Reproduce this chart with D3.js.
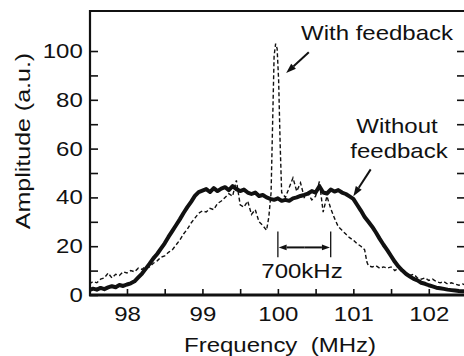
<!DOCTYPE html>
<html>
<head>
<meta charset="utf-8">
<script src="https://cdn.jsdelivr.net/npm/d3@7"></script>
<style>
  html, body { margin: 0; padding: 0; background: #fff; }
  svg { display: block; }
  text { font-family: "Liberation Sans", Arial, sans-serif; fill: #111; }
</style>
</head>
<body>
<svg id="chart" width="464" height="356"></svg>
<script>
// ---- data ----
const xDomain = [97.51, 102.48];
const yDomain = [0, 116.4];
const xTicks = [98, 98.5, 99, 99.5, 100, 100.5, 101, 101.5, 102];
const xLabels = [98, 99, 100, 101, 102];
const yTicks = [0, 10, 20, 30, 40, 50, 60, 70, 80, 90, 100];
const yLabels = [0, 20, 40, 60, 80, 100];

// [frequency MHz, amplitude a.u.]
const withoutFeedback = [
  [97.50, 2.0], [97.55, 2.6], [97.60, 2.2], [97.65, 2.9], [97.70, 2.4],
  [97.75, 3.1], [97.80, 3.6], [97.85, 3.2], [97.90, 4.1], [97.95, 3.7],
  [98.00, 4.3], [98.05, 4.8], [98.10, 5.6], [98.15, 7.2], [98.20, 8.8],
  [98.25, 10.8], [98.30, 12.8], [98.35, 15.0], [98.40, 16.8], [98.45, 19.0],
  [98.50, 21.2], [98.55, 23.8], [98.60, 26.2], [98.65, 28.6], [98.70, 31.0],
  [98.75, 33.6], [98.80, 36.0], [98.85, 38.2], [98.90, 40.6], [98.95, 42.2],
  [99.00, 42.8], [99.05, 43.4], [99.10, 42.2], [99.15, 43.8], [99.20, 42.6],
  [99.25, 43.6], [99.30, 44.2], [99.35, 43.0], [99.40, 44.6], [99.45, 43.4],
  [99.50, 42.6], [99.55, 43.2], [99.60, 42.0], [99.65, 41.4], [99.70, 42.0],
  [99.75, 40.6], [99.80, 41.0], [99.85, 40.0], [99.90, 39.4], [99.95, 39.0],
  [100.00, 39.6], [100.05, 38.6], [100.10, 39.0], [100.15, 38.6], [100.20, 39.6],
  [100.25, 40.0], [100.30, 40.6], [100.35, 41.0], [100.40, 41.6], [100.45, 42.6],
  [100.50, 42.0], [100.55, 44.6], [100.60, 42.0], [100.65, 41.6], [100.70, 43.2],
  [100.75, 42.4], [100.80, 43.0], [100.85, 42.0], [100.90, 41.4], [100.95, 40.4],
  [101.00, 39.4], [101.05, 37.0], [101.10, 34.6], [101.15, 32.0], [101.20, 30.0],
  [101.25, 28.0], [101.30, 25.6], [101.35, 23.0], [101.40, 20.6], [101.45, 18.4],
  [101.50, 16.0], [101.55, 13.6], [101.60, 11.6], [101.65, 10.0], [101.70, 8.6],
  [101.75, 7.6], [101.80, 6.6], [101.85, 6.0], [101.90, 5.0], [101.95, 4.6],
  [102.00, 4.0], [102.05, 3.5], [102.10, 3.0], [102.15, 2.8], [102.20, 2.5],
  [102.25, 2.2], [102.30, 2.0], [102.35, 1.8], [102.40, 1.6], [102.45, 1.5],
  [102.50, 1.5]
];

const withFeedback = [
  [97.50, 4.5], [97.55, 5.5], [97.60, 5.0], [97.65, 6.5], [97.70, 7.0],
  [97.75, 9.0], [97.80, 7.0], [97.85, 8.5], [97.90, 8.0], [97.95, 9.5],
  [98.00, 9.0], [98.05, 10.0], [98.10, 9.5], [98.15, 11.0], [98.20, 10.5],
  [98.25, 12.0], [98.30, 11.5], [98.35, 13.0], [98.40, 14.0], [98.45, 15.5],
  [98.50, 16.0], [98.55, 17.5], [98.60, 18.5], [98.65, 20.5], [98.70, 22.5],
  [98.75, 25.0], [98.80, 27.0], [98.85, 29.5], [98.90, 31.5], [98.95, 33.5],
  [99.00, 34.5], [99.05, 34.0], [99.10, 35.5], [99.15, 35.0], [99.20, 37.5],
  [99.25, 38.5], [99.30, 40.0], [99.35, 41.5], [99.40, 40.5], [99.45, 47.0],
  [99.50, 37.0], [99.55, 36.0], [99.60, 38.5], [99.65, 33.0], [99.70, 35.0],
  [99.75, 30.0], [99.80, 28.5], [99.85, 26.5], [99.88, 32.0], [99.91, 42.0],
  [99.93, 70.0], [99.95, 98.0], [99.97, 103.0], [99.99, 101.0], [100.01, 88.0],
  [100.03, 62.0], [100.05, 42.0], [100.10, 40.0], [100.15, 44.0], [100.20, 48.0],
  [100.25, 42.5], [100.30, 46.0], [100.35, 40.0], [100.40, 41.5], [100.45, 39.0],
  [100.50, 40.5], [100.55, 46.5], [100.60, 34.0], [100.65, 40.5], [100.70, 35.5],
  [100.75, 31.5], [100.80, 28.0], [100.85, 26.5], [100.90, 25.0], [100.95, 23.5],
  [101.00, 22.5], [101.05, 21.0], [101.10, 20.0], [101.15, 18.5], [101.18, 13.5],
  [101.20, 12.0], [101.25, 11.5], [101.30, 12.0], [101.35, 11.0], [101.40, 11.5],
  [101.45, 11.0], [101.50, 11.5], [101.55, 10.0], [101.60, 11.0], [101.65, 9.5],
  [101.70, 8.5], [101.75, 8.0], [101.80, 8.5], [101.85, 7.0], [101.90, 6.5],
  [101.95, 7.0], [102.00, 6.0], [102.05, 6.5], [102.10, 5.5], [102.15, 5.0],
  [102.20, 5.5], [102.25, 4.5], [102.30, 5.0], [102.35, 4.5], [102.40, 4.0],
  [102.45, 4.5], [102.50, 4.0]
];

// ---- layout ----
const W = 464, H = 356;
const plot = { left: 90, right: 465, top: 11, bottom: 295 };
const SX = 1.2; // the original typeface is wider than Arial

const svg = d3.select('#chart');
const x = d3.scaleLinear().domain(xDomain).range([plot.left, plot.right]);
const y = d3.scaleLinear().domain(yDomain).range([plot.bottom, plot.top]);

const clip = svg.append('clipPath').attr('id', 'plotclip')
  .append('rect')
  .attr('x', plot.left).attr('y', plot.top)
  .attr('width', plot.right - plot.left).attr('height', plot.bottom - plot.top);

// axes (ticks point inward)
const gx = svg.append('g')
  .attr('transform', `translate(0,${plot.bottom})`)
  .call(d3.axisBottom(x).tickValues(xTicks).tickSize(-6).tickPadding(12)
    .tickFormat(d => xLabels.includes(d) ? d : ''));

const gy = svg.append('g')
  .attr('transform', `translate(${plot.left},0)`)
  .call(d3.axisLeft(y).tickValues(yTicks).tickSize(-8).tickPadding(6)
    .tickFormat(d => yLabels.includes(d) ? d : ''));

const gr = svg.append('g')
  .attr('transform', `translate(${plot.right - 1},0)`)
  .call(d3.axisRight(y).tickValues(yTicks.filter(d => d > 0)).tickSize(-7).tickFormat(''));

[gx, gy, gr].forEach(g => {
  g.select('.domain').remove();
  g.selectAll('line').attr('stroke', '#111').attr('stroke-width', 1.6);
  g.selectAll('text')
    .attr('font-size', 20)
    .attr('font-family', '"Liberation Sans", Arial, sans-serif')
    .attr('fill', '#111')
    .attr('transform', `scale(${SX},1)`);
});

// frame
const frame = svg.append('g').attr('stroke', '#111').attr('fill', 'none');
frame.append('line').attr('x1', plot.left).attr('x2', W).attr('y1', plot.top).attr('y2', plot.top).attr('stroke-width', 2.2);
frame.append('line').attr('x1', plot.left).attr('x2', plot.left).attr('y1', plot.top - 1).attr('y2', plot.bottom + 1).attr('stroke-width', 2.2);
frame.append('line').attr('x1', plot.left - 1).attr('x2', W).attr('y1', plot.bottom).attr('y2', plot.bottom).attr('stroke-width', 2.8);

// traces
const line = d3.line().x(d => x(d[0])).y(d => y(d[1]));
const traces = svg.append('g').attr('clip-path', 'url(#plotclip)');

traces.append('path')
  .datum(withFeedback)
  .attr('d', line)
  .attr('fill', 'none')
  .attr('stroke', '#111')
  .attr('stroke-width', 1.4)
  .attr('stroke-dasharray', '4,2.5');

traces.append('path')
  .datum(withoutFeedback)
  .attr('d', line)
  .attr('fill', 'none')
  .attr('stroke', '#111')
  .attr('stroke-width', 4)
  .attr('stroke-linejoin', 'round');

// ---- annotations ----
function label(px, py, s, opts = {}) {
  return svg.append('text')
    .attr('transform', `translate(${px},${py}) rotate(${opts.rotate || 0}) scale(${opts.sx || SX},1)`)
    .attr('text-anchor', opts.anchor || 'middle')
    .attr('font-size', opts.size || 20)
    .text(s);
}

function arrow(from, to, head = 10, half = 3.5) {
  const x1 = x(from[0]), y1 = y(from[1]), x2 = x(to[0]), y2 = y(to[1]);
  const a = Math.atan2(y2 - y1, x2 - x1);
  const bx = x2 - head * Math.cos(a), by = y2 - head * Math.sin(a);
  svg.append('line')
    .attr('x1', x1).attr('y1', y1).attr('x2', bx).attr('y2', by)
    .attr('stroke', '#111').attr('stroke-width', 2);
  svg.append('path')
    .attr('d', `M${x2},${y2} L${bx - half * Math.sin(a)},${by + half * Math.cos(a)} L${bx + half * Math.sin(a)},${by - half * Math.cos(a)} Z`)
    .attr('fill', '#111');
}

label(377, 40, 'With feedback');
arrow([100.41, 99.5], [100.11, 91.0]);

label(397, 133, 'Without');
label(399, 158, 'feedback');
arrow([101.23, 51.5], [101.0, 40.5]);

// 700 kHz marker
const span = [100.0, 100.7];
span.forEach(f => {
  svg.append('line')
    .attr('x1', x(f)).attr('x2', x(f))
    .attr('y1', y(26)).attr('y2', y(15.5))
    .attr('stroke', '#111').attr('stroke-width', 1.3);
});
const mid = (span[0] + span[1]) / 2;
arrow([mid, 19.5], [span[0] + 0.01, 19.5], 8, 2.8);
arrow([mid, 19.5], [span[1] - 0.01, 19.5], 8, 2.8);
label(302, 278, '700kHz');

// axis titles
label(280, 352, 'Frequency\u00a0\u00a0(MHz)');
label(30, 141, 'Amplitude (a.u.)', { rotate: -90, sx: 1.25 });
</script>
</body>
</html>
